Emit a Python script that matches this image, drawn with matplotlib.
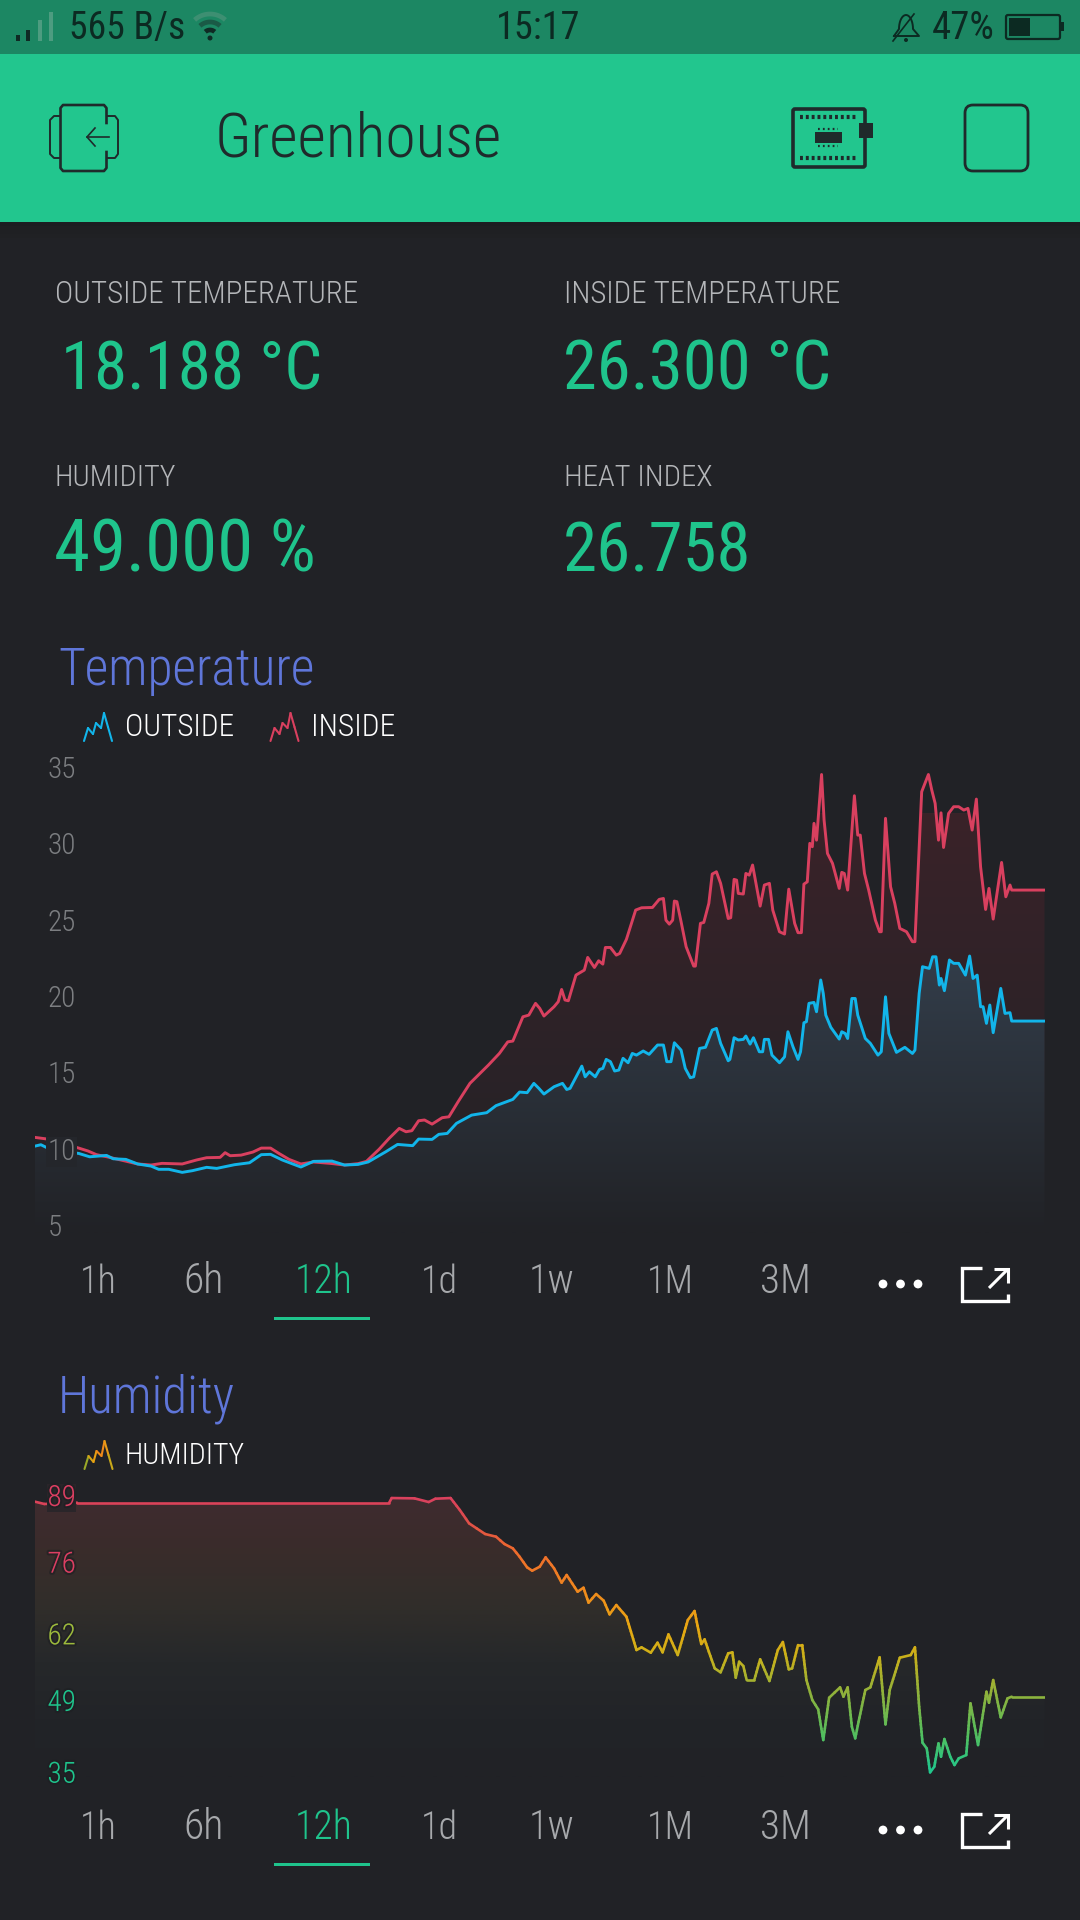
import numpy as np
import matplotlib
matplotlib.use('Agg')
import matplotlib.pyplot as plt
from matplotlib import font_manager as fm
from matplotlib.collections import LineCollection
from matplotlib.colors import LinearSegmentedColormap
from matplotlib.patches import FancyBboxPatch, Rectangle, Circle, Polygon
import matplotlib.patheffects as pe

# ---------------- data ----------------
inside_hours = [0,.15,.52,.63,.73,.89,1.06,1.22,1.38,1.51,1.75,1.92,2.04,2.2,2.26,2.32,2.45,2.59,2.69,2.8,2.9,3.02,3.16,3.31,3.51,3.68,3.84,3.94,4.09,4.21,4.33,4.41,4.48,4.56,4.63,4.72,4.84,4.92,5.03,5.17,5.39,5.52,5.62,5.68,5.8,5.87,5.95,
 6.0,6.05,6.17,6.22,6.26,6.3,6.34,6.43,6.53,6.57,6.65,6.7,6.75,6.78,6.84,6.91,6.95,7.03,7.14,7.21,7.34,7.42,7.47,7.5,7.54,7.58,7.6,7.63,7.68,7.74,7.83,7.85,7.91,7.95,8.01,8.05,8.1,8.15,8.24,8.27,8.31,8.34,8.36,8.42,8.45,8.49,8.53,8.62,8.67,8.73,8.77,8.85,8.91,8.96,9.03,9.07,9.11,9.14,9.18,9.21,9.24,9.26,9.29,9.35,9.38,9.42,9.48,9.56,9.59,9.62,9.66,9.74,9.78,9.81,9.86,9.91,9.99,10.04,10.06,10.11,10.17,10.22,10.28,10.36,10.43,10.46,10.54,10.62,10.66,10.7,10.74,10.77,10.8,10.86,10.92,10.98,11.04,11.09,11.14,11.19,11.24,11.3,11.34,11.39,11.49,11.54,11.59,11.61,12.0]
inside_temp = [10.74,10.63,10.04,9.85,9.61,9.43,9.21,9.0,8.93,9.04,9.0,9.26,9.41,9.43,9.74,9.54,9.58,9.78,10.04,10.04,9.69,9.3,9.0,9.13,9.04,8.93,9.02,9.17,9.96,10.68,11.33,11.11,11.18,11.83,11.88,11.61,12.03,12.09,13.08,14.28,15.48,16.24,17.0,17.05,18.64,18.75,19.52,
 19.19,18.69,19.3,19.63,20.43,19.74,19.69,21.37,21.7,22.53,21.87,22.31,22.09,23.18,23.18,22.68,22.79,23.71,25.63,25.78,25.8,26.33,26.39,24.97,24.71,24.97,26.22,26.18,24.87,23.23,21.96,21.96,24.76,24.82,26.07,27.99,28.14,27.38,25.08,25.13,27.64,27.59,26.72,26.68,28.03,27.92,28.58,25.89,27.27,27.38,25.63,24.21,24.06,27.0,24.76,24.15,24.15,27.33,27.48,30.0,29.78,31.31,30.21,34.51,31.52,29.34,28.69,27.05,28.1,28.03,26.94,33.12,30.54,30.54,28.03,26.94,24.97,24.21,24.21,31.64,27.16,26.07,24.43,24.21,23.56,23.56,33.38,34.51,33.49,32.62,30.21,32.0,29.73,31.96,32.4,32.4,32.18,32.29,30.87,32.9,28.47,25.67,27.05,25.04,28.75,26.5,27.27,26.94,26.94]

outside_hours = [0,.07,.18,.52,.65,.85,.93,1.08,1.22,1.38,1.47,1.59,1.75,1.87,2.04,2.16,2.37,2.55,2.69,2.8,2.94,3.16,3.31,3.53,3.68,3.84,3.96,4.17,4.31,4.49,4.56,4.72,4.8,4.9,5.01,5.19,5.37,5.48,5.68,5.76,5.85,5.93,5.99,
 6.05,6.17,6.27,6.32,6.36,6.5,6.54,6.59,6.66,6.71,6.75,6.79,6.84,6.89,6.94,6.99,7.05,7.1,7.15,7.23,7.3,7.4,7.47,7.51,7.56,7.6,7.68,7.73,7.79,7.83,7.9,7.97,8.05,8.1,8.15,8.24,8.26,8.31,8.36,8.42,8.45,8.5,8.54,8.61,8.65,8.67,8.72,8.76,8.85,8.91,8.95,9.01,9.07,9.1,9.14,9.17,9.2,9.26,9.29,9.34,9.37,9.4,9.46,9.56,9.59,9.63,9.66,9.71,9.75,9.78,9.87,9.93,10.02,10.06,10.11,10.15,10.24,10.34,10.43,10.46,10.51,10.55,10.63,10.67,10.71,10.75,10.77,10.81,10.87,10.92,10.98,11.06,11.11,11.15,11.2,11.24,11.27,11.31,11.35,11.39,11.48,11.53,11.59,11.61,12.0]
outside_temp = [10.17,10.26,9.96,9.69,9.47,9.56,9.34,9.3,9.0,8.86,8.65,8.65,8.45,8.56,8.78,8.71,8.95,9.08,9.61,9.63,9.26,8.8,9.17,9.19,8.93,8.97,9.13,9.8,10.28,10.2,10.63,10.61,10.94,11.0,11.66,12.2,12.36,12.82,13.23,13.71,13.67,14.28,13.95,
 13.58,14.06,14.28,13.88,13.95,15.41,14.71,15.04,14.71,15.19,15.26,15.85,15.7,15.09,15.15,15.92,15.63,16.24,16.13,16.4,16.18,16.79,16.79,15.7,15.7,16.94,16.46,15.26,14.65,14.71,16.57,16.64,17.77,17.88,16.9,15.76,15.85,17.27,17.12,17.16,17.38,16.85,17.27,16.35,16.35,17.16,17.16,16.13,15.63,16.02,17.66,16.68,15.85,16.35,18.25,18.32,19.52,19.58,18.97,21.05,20.17,18.75,17.95,17.18,17.66,17.55,17.22,19.84,19.84,18.75,17.22,16.9,16.13,16.35,19.95,17.55,16.31,16.64,16.24,16.46,20.17,21.92,21.81,22.57,22.57,20.72,21.15,20.35,22.36,22.14,22.14,21.37,22.62,21.15,21.37,19.3,19.3,18.21,19.41,17.6,20.5,18.86,18.91,18.36,18.36]

humidity_hours = [0,.11,.5,4.21,4.24,4.51,4.68,4.76,4.94,5.05,5.16,5.25,5.35,5.48,5.58,5.68,5.76,5.85,5.91,6.0,6.07,6.17,6.26,6.32,6.45,6.52,6.58,6.67,6.76,6.83,6.91,7.03,7.15,7.21,7.32,7.4,7.46,7.53,7.64,7.76,7.84,7.92,7.96,8.01,8.08,8.15,8.24,8.29,8.33,8.37,8.42,8.46,8.55,8.62,8.73,8.83,8.89,8.96,9.0,9.07,9.12,9.17,9.24,9.31,9.37,9.44,9.57,9.61,9.66,9.71,9.75,9.79,9.87,9.93,10.04,10.11,10.16,10.28,10.41,10.46,10.51,10.55,10.6,10.64,10.69,10.74,10.77,10.81,10.88,10.93,10.98,11.07,11.12,11.21,11.31,11.34,11.39,11.48,11.56,11.61,12.0]
humidity = [87.7,87.25,87.5,87.5,88.41,88.35,87.63,88.28,88.41,86.07,83.47,82.49,81.39,80.87,79.44,78.59,76.96,74.88,74.23,75.01,76.83,74.69,71.89,73.39,70.13,70.91,67.99,69.68,68.38,65.71,67.53,65.25,58.75,59.27,58.23,60.18,58.29,61.8,57.77,64.6,66.36,59.92,60.83,58.42,55.17,54.39,58.1,58.29,53.35,56.47,55.62,52.89,52.89,56.93,52.7,58.75,60.31,54.97,55.17,59.72,59.72,52.89,48.99,47.17,41.18,49.44,51.46,49.64,51.46,43.78,41.51,44.76,50.94,51.46,57.32,44.24,50.94,57.25,57.77,59.27,47.69,40.66,39.55,34.87,35.98,40.53,37.93,41.38,37.93,36.3,37.6,38.25,48.34,40.2,50.61,48.47,52.89,45.6,49.31,49.64,49.64]

temp_ticks = [5, 10, 15, 20, 25, 30, 35]
hum_ticks = [35, 49, 62, 76, 89]
hum_tick_colors = ['#1fc48c', '#1fc48c', '#9dba3c', '#dc3f62', '#dc3f62']
tabs = ['1h', '6h', '12h', '1d', '1w', '1M', '3M']
stats = [('OUTSIDE TEMPERATURE', '18.188 °C'), ('INSIDE TEMPERATURE', '26.300 °C'),
         ('HUMIDITY', '49.000 %'), ('HEAT INDEX', '26.758')]

# ---------------- style ----------------
W, H = 1080, 1920
BG = '#212226'
GREEN = '#22c68e'
TXTGREEN = '#1fc48c'
BLUE = '#12b5ea'
RED = '#d9405f'
TITLE = '#5f76d9'
DARK = '#1f2a2b'
names = {f.name for f in fm.fontManager.ttflist}
def pick():
    for fam in ['Roboto Condensed', 'Noto Sans Condensed', 'Open Sans Condensed', 'Liberation Sans Narrow']:
        if fam in names:
            return dict(family=fam, stretch='normal')
    for fam in ['Noto Sans', 'Roboto', 'Open Sans']:
        for f in fm.fontManager.ttflist:
            if f.name == fam and 'condensed' in str(f.stretch).lower():
                return dict(family=fam, stretch='condensed')
    return dict(family='Roboto', stretch='normal')
FONT = pick()

fig = plt.figure(figsize=(W / 100, H / 100), dpi=100, facecolor=BG)
bg = fig.add_axes([0, 0, 1, 1], zorder=0)
bg.set_xlim(0, W); bg.set_ylim(H, 0); bg.axis('off')
fg = fig.add_axes([0, 0, 1, 1], zorder=5)
fg.set_xlim(0, W); fg.set_ylim(H, 0); fg.axis('off'); fg.patch.set_alpha(0)
rend = fig.canvas.get_renderer()

def label(x0, x1, base, s, size, color, weight='light'):
    """Text from x0 to x1 (pixels), baseline at base; size in px, trimmed to fit the width."""
    x0 = x0 - size * 0.045
    t = fg.text(x0, base, s, color=color, va='baseline', ha='left', fontsize=size * 0.72,
                weight=weight, **FONT)
    w = t.get_window_extent(rend).width
    t.set_fontsize(size * 0.72 * (x1 - x0) / w)
    return t

# status and header bars
bg.add_patch(Rectangle((0, 0), W, 54, color='#1c8763', lw=0))
bg.add_patch(Rectangle((0, 54), W, 168, color=GREEN, lw=0))
for i, a in enumerate([.35, .25, .16, .08]):
    bg.add_patch(Rectangle((0, 222 + i * 4), W, 4, color='black', alpha=a * .35, lw=0))

for x, top, c in [(18, 35, '#0f2a24'), (28, 30, '#0f2a24'), (40, 20, '#4d9c80'), (51, 12, '#4d9c80')]:
    fg.add_patch(Rectangle((x - 1.7, top), 3.4, 41 - top, color=c, lw=0))
label(70, 185, 39, '565 B/s', 32, '#0c2a22', 'normal')
label(497, 580, 39, '15:17', 32, '#0c2a22', 'normal')
label(933, 994, 39, '47%', 32, '#0c2a22', 'normal')
th = np.linspace(np.radians(48), np.radians(132), 24)
for r, c, lw in [(7, '#0f2a24', 3.4), (15, '#1a5a46', 3.4), (23, '#3d8f72', 3.4)]:
    fg.plot(210 + r * np.cos(th), 37 - r * np.sin(th), color=c, lw=lw, solid_capstyle='butt')
fg.add_patch(Circle((210, 38), 2.5, color='#0f2a24', lw=0))
# bell
bell_t = np.linspace(0, np.pi, 20)
fg.plot(np.r_[894, 899, 899 + 7 * (1 - np.cos(bell_t)), 913, 919, 894],
        np.r_[36, 29, 29 - 14 * np.sin(bell_t), 29, 36, 36], color='#0c2a22', lw=1.4)
fg.plot([893, 914], [41, 14], color='#0c2a22', lw=1.2)
fg.add_patch(Circle((906, 40), 2, color='#0c2a22', lw=0))
# battery
fg.add_patch(FancyBboxPatch((1006, 15), 54, 24, boxstyle='round,pad=0,rounding_size=2', fc='none', ec='#0c2a22', lw=1.6))
fg.add_patch(Rectangle((1009, 18), 21, 18, color='#0c2a22', lw=0))
fg.add_patch(Rectangle((1061, 22), 3, 9, color='#0c2a22', lw=0))

label(217, 501, 156.5, 'Greenhouse', 62, DARK, 'light')
# back icon
fg.plot([106.5, 106.5, 104, 63, 60.5, 60.5, 63, 104, 106.5, 106.5], [123, 108, 105, 105, 108, 168, 171, 171, 168, 152],
        color=DARK, lw=1.9)
fg.plot([60, 54, 50, 50, 54, 60], [116, 116, 120, 154, 158, 158], color=DARK, lw=1.4)
fg.plot([107, 115, 118, 118, 115, 107], [116, 116, 120, 154, 158, 158], color=DARK, lw=1.4)
fg.plot([109, 87], [137, 137], color=DARK, lw=1.2)
fg.plot([95, 87, 95], [128, 137, 146], color=DARK, lw=1.2)
# chip icon
fg.add_patch(FancyBboxPatch((793, 109), 72, 58, boxstyle='round,pad=0,rounding_size=2', fc='none', ec=DARK, lw=2.6))
fg.add_patch(Rectangle((859, 123), 14, 15, color=DARK, lw=0))
fg.add_patch(Rectangle((815, 132), 27, 11, color=DARK, lw=0))
for yy in (117, 158):
    fg.plot([800, 858], [yy, yy], color=DARK, lw=3, ls=(0, (.7, .7)))
for yy in (129, 146):
    fg.plot([818, 838], [yy, yy], color=DARK, lw=1.6, ls=(0, (.8, 1.4)))
# square icon
fg.add_patch(FancyBboxPatch((965, 105), 63, 66, boxstyle='round,pad=0,rounding_size=8', fc='none', ec=DARK, lw=2.0))

# stats
GREY = '#b4b6b9'
label(56, 358, 303, stats[0][0], 29, GREY)
label(565, 840, 303, stats[1][0], 29, GREY)
label(56, 176.5, 486, stats[2][0], 29, GREY)
label(565, 712, 486, stats[3][0], 29, GREY)
label(64, 322, 390, stats[0][1], 70, TXTGREEN, 'normal')
label(566, 831, 390, stats[1][1], 70, TXTGREEN, 'normal')
label(57, 315, 572, stats[2][1], 70, TXTGREEN, 'normal')
label(566, 751, 572, stats[3][1], 70, TXTGREEN, 'normal')

label(60, 314, 685, 'Temperature', 46, TITLE)
label(60, 235, 1413, 'Humidity', 46, TITLE)
label(126, 234, 736, 'OUTSIDE', 29, 'white')
label(312, 395, 736, 'INSIDE', 29, 'white')
label(126, 245, 1464, 'HUMIDITY', 29, 'white')

def spark(x0, y0, cols):
    xs = x0 + np.array([0, 4, 9, 12, 17, 20, 24, 28])
    ys = y0 + np.array([28, 15, 21, 10, 15, 0, 14, 28])
    for i in range(len(xs) - 1):
        fg.plot(xs[i:i + 2], ys[i:i + 2], color=cols[min(i, len(cols) - 1)], lw=1.5, solid_capstyle='round')
spark(84, 713, [BLUE])
spark(270.5, 713, [RED])
spark(84.5, 1441, ['#9aa828', '#d8a314', '#e8a012', '#ee8a1a', '#ee8a1a', '#e89a16', '#c8a81a'])

def controls(base, dot_y, ul_y, ic_top, ic_bot):
    spans = [(81.5, 116.5), (185.5, 224), (296.5, 352.6), (423, 458.5), (531, 575), (649, 694), (762, 811)]
    for i, (t, (a, b)) in enumerate(zip(tabs, spans)):
        label(a, b, base, t, 42, TXTGREEN if t == '12h' else '#a7a9ac')
    fg.add_patch(Rectangle((274, ul_y - 1.5), 96, 3, color=TXTGREEN, lw=0))
    for x in (883, 900.5, 918):
        fg.add_patch(Circle((x, dot_y), 4.4, color='white', lw=0))
    fg.plot([982, 961.5, 961.5, 1008, 1008], [ic_top, ic_top, ic_bot, ic_bot, ic_bot - 7], color='white', lw=2.4,
            solid_joinstyle='miter', solid_capstyle='butt')
    fg.plot([989, 1008], [ic_top + 20, ic_top + 1], color='white', lw=2.2, solid_capstyle='butt')
    fg.plot([994, 1008, 1008], [ic_top + 1, ic_top + 1, ic_top + 15], color='white', lw=2.2,
            solid_joinstyle='miter', solid_capstyle='butt')
controls(1293, 1284, 1318, 1268, 1301)
controls(1839, 1830, 1864, 1814, 1847)

# ---------------- charts ----------------
def chart_axes(top, bottom, ylim):
    ax = fig.add_axes([35 / W, 1 - bottom / H, (1044.5 - 35) / W, (bottom - top) / H], zorder=2)
    ax.patch.set_alpha(0)
    ax.set_xlim(0, 12); ax.set_ylim(*ylim)
    for s in ax.spines.values():
        s.set_visible(False)
    ax.set_xticks([])
    ax.tick_params(axis='y', length=0, direction='in', pad=-9)
    ax.set_axisbelow(False)
    return ax

def grad_fill(ax, hours, vals, colors, ylim, z):
    cm = LinearSegmentedColormap.from_list('f', colors)
    grad = np.linspace(1, 0, 256)[:, None]
    im = ax.imshow(grad, cmap=cm, vmin=0, vmax=1, extent=[0, 12, ylim[0], ylim[1]], aspect='auto', zorder=z,
                   interpolation='bilinear')
    poly = Polygon(np.c_[np.r_[hours[0], hours, hours[-1]], np.r_[ylim[0], vals, ylim[0]]], closed=True,
                   transform=ax.transData, fc='none', ec='none')
    ax.add_patch(poly)
    im.set_clip_path(poly)

# Temperature
tlim = (4.02, 35.46)
ax1 = chart_axes(760, 1240, tlim)
grad_fill(ax1, inside_hours, inside_temp, [BG, '#3a2329'], (4.5, 32), 1)
grad_fill(ax1, outside_hours, outside_temp, [BG, '#35414f'], (4.5, 25), 1.2)
ax1.set_ylim(*tlim); ax1.set_xlim(0, 12)
ax1.plot(inside_hours, inside_temp, color=RED, lw=2.1, zorder=2, solid_joinstyle='round')
ax1.plot(outside_hours, outside_temp, color=BLUE, lw=2.1, zorder=2.1, solid_joinstyle='round')
ax1.set_yticks(temp_ticks)
ax1.set_yticklabels([str(v) for v in temp_ticks], ha='left', color='#7c7e81', fontsize=21, weight='light', **FONT)
for lab, v in zip(ax1.get_yticklabels(), temp_ticks):
    if v == 10:
        lab.set_bbox(dict(fc='#24262b', ec='none', pad=0.8))

# Humidity
hlim = (31.43, 91.93)
ax2 = chart_axes(1480, 1790, hlim)
grad_fill(ax2, humidity_hours, humidity,
          [BG, '#222428', '#26282a', '#312e2a', '#3a2c2b', '#402b30'], (34, 90), 1)
ax2.set_ylim(*hlim); ax2.set_xlim(0, 12)
line_cm = LinearSegmentedColormap.from_list('h', [
    (0.00, '#1fc78f'), (0.13, '#52bf5f'), (0.28, '#8fb23c'), (0.43, '#cfb018'), (0.52, '#e8a812'),
    (0.65, '#f08a1c'), (0.80, '#ee6a2e'), (0.92, '#dd4a4e'), (1.00, '#d9405f')])
segs, cols = [], []
for (h0, v0), (h1, v1) in zip(zip(humidity_hours, humidity), zip(humidity_hours[1:], humidity[1:])):
    n = max(1, int(abs(v1 - v0) / 0.7))
    hh, vv = np.linspace(h0, h1, n + 1), np.linspace(v0, v1, n + 1)
    for i in range(n):
        segs.append([(hh[i], vv[i]), (hh[i + 1], vv[i + 1])])
        cols.append(line_cm((0.5 * (vv[i] + vv[i + 1]) - 35) / 54))
ax2.add_collection(LineCollection(segs, colors=cols, linewidths=1.9, capstyle='round', zorder=2))
ax2.set_yticks(hum_ticks)
ax2.set_yticklabels([str(v) for v in hum_ticks], ha='left', fontsize=21, weight='light', **FONT)
for lab, v, c in zip(ax2.get_yticklabels(), hum_ticks, hum_tick_colors):
    lab.set_color(c)
    lab.set_path_effects([pe.withStroke(linewidth=3, foreground='#1d1e22', alpha=.6)])
    if v == 89:
        lab.set_bbox(dict(fc='#2a2529', ec='none', pad=0.2))

fig.savefig('out.png', dpi=100, facecolor=BG)
